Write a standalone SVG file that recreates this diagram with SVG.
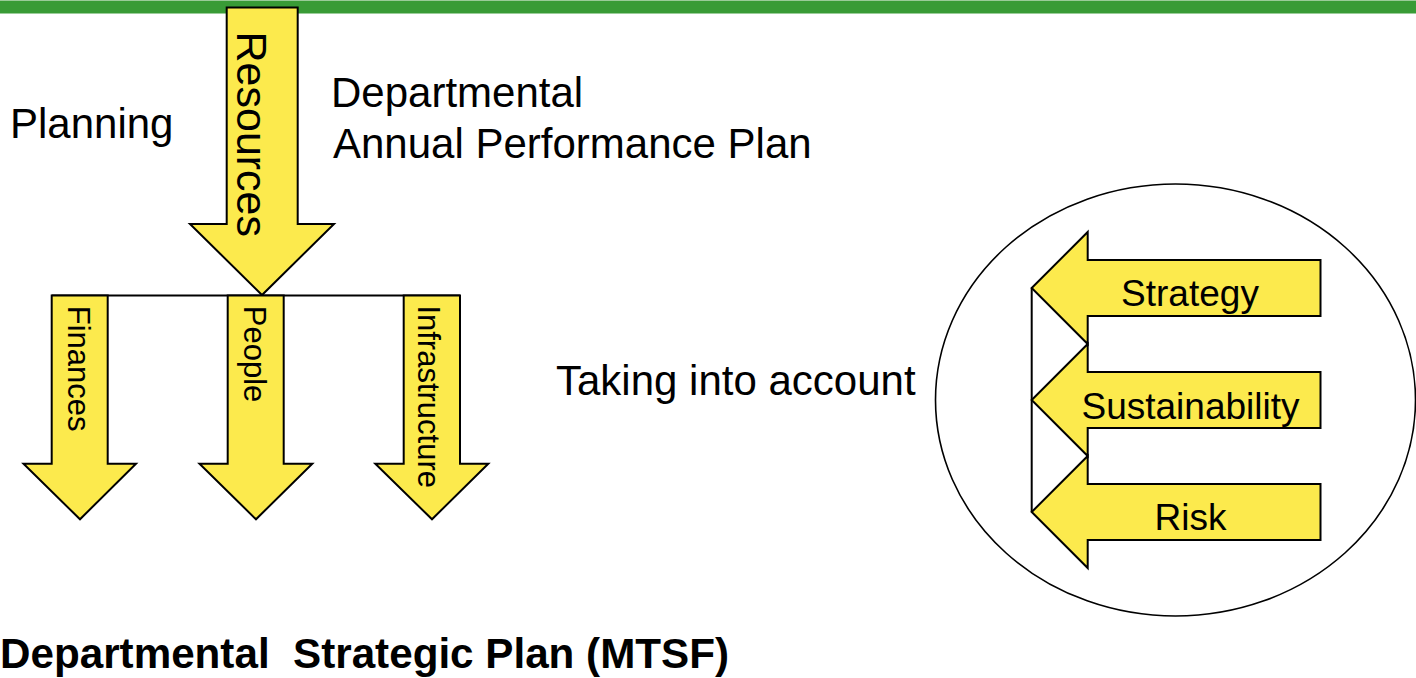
<svg xmlns="http://www.w3.org/2000/svg" width="1416" height="678" viewBox="0 0 1416 678">
  <style>
    text { font-family: "Liberation Sans", Arial, sans-serif; fill: #000; }
    .lbl { font-size: 42px; }
    .vt { font-size: 31px; }
    .ct { font-size: 37px; text-anchor: middle; }
    .arrow { fill: #FCEA4D; stroke: #000; stroke-width: 2; stroke-linejoin: miter; }
    .conn { stroke: #000; stroke-width: 2; fill: none; }
  </style>
  <rect width="1416" height="678" fill="#fff"/>
  <g id="header-bar">
    <rect x="0" y="0" width="1416" height="13.5" fill="#399B36"/>
    <rect x="0" y="0" width="1416" height="1" fill="#9ACB98"/>
  </g>

  <g id="connectors">
    <line class="conn" x1="51.7" y1="295.5" x2="460" y2="295.5"/>
    <line class="conn" x1="1031.7" y1="288" x2="1031.7" y2="512"/>
  </g>

  <g id="resources">
    <path class="arrow" d="M226.7,7.5 H297.7 V224 H334 L262,295 L190,224 H226.7 Z"/>
    <text transform="translate(236.5,31.5) rotate(90)" style="font-size:43px">Resources</text>
  </g>

  <g id="finances">
    <path class="arrow" d="M51.7,295.5 H107.7 V463.7 H136 L80,519.3 L23.5,463.7 H51.7 Z"/>
    <text class="vt" transform="translate(68.3,305.8) rotate(90)">Finances</text>
  </g>
  <g id="people">
    <path class="arrow" d="M227.7,295.5 H283.7 V463.7 H312.3 L256,519.3 L199.5,463.7 H227.7 Z"/>
    <text class="vt" transform="translate(244.4,305.8) rotate(90)">People</text>
  </g>
  <g id="infrastructure">
    <path class="arrow" d="M403.7,295.5 H460 V463.7 H488.3 L432,519.3 L375.3,463.7 H403.7 Z"/>
    <text class="vt" transform="translate(418.4,305.4) rotate(90)">Infrastructure</text>
  </g>

  <g id="planning">
    <text class="lbl" x="10" y="138">Planning</text>
  </g>
  <g id="annual-plan">
    <text class="lbl" x="331" y="107">Departmental</text>
    <text class="lbl" x="333" y="157.5">Annual Performance Plan</text>
  </g>
  <g id="taking-into-account">
    <text class="lbl" x="556" y="395">Taking into account</text>
  </g>

  <g id="considerations">
    <ellipse cx="1175.5" cy="400" rx="240" ry="216" fill="none" stroke="#000" stroke-width="1.6"/>
  </g>
  <g id="strategy">
    <path class="arrow" d="M1031.7,288 L1087.7,232 V260 H1320.5 V316 H1087.7 V344 Z"/>
    <text class="ct" x="1190" y="306">Strategy</text>
  </g>
  <g id="sustainability">
    <path class="arrow" d="M1031.7,400 L1087.7,344 V372 H1320.5 V428 H1087.7 V456 Z"/>
    <text class="ct" x="1190.5" y="418.5">Sustainability</text>
  </g>
  <g id="risk">
    <path class="arrow" d="M1031.7,512 L1087.7,456 V484 H1320.5 V540 H1087.7 V568 Z"/>
    <text class="ct" x="1190.5" y="529.5">Risk</text>
  </g>

  <g id="strategic-plan">
    <text x="0" y="668" xml:space="preserve" style="font-size:42.2px;font-weight:bold">Departmental  Strategic Plan (MTSF)</text>
  </g>
</svg>
